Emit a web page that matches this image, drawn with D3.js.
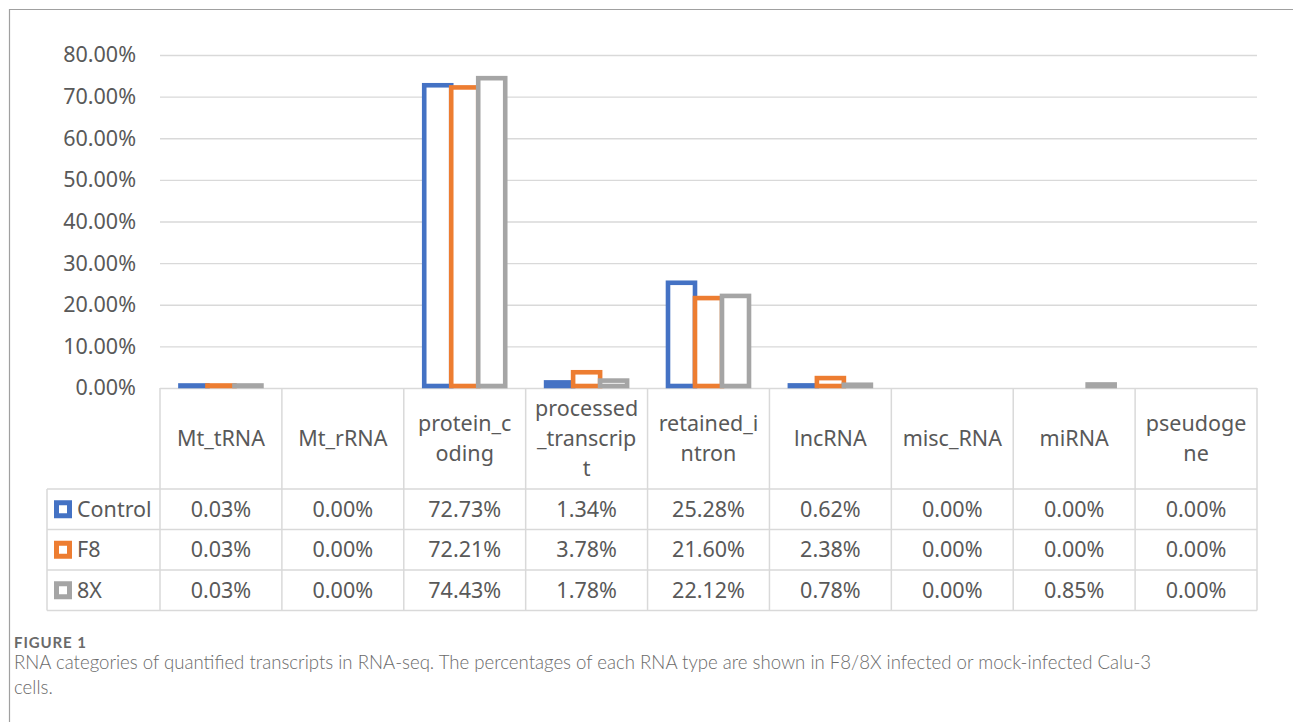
<!DOCTYPE html>
<html>
<head>
<meta charset="utf-8">
<script src="https://cdn.jsdelivr.net/npm/d3@7"></script>
<style>
  html, body { margin: 0; padding: 0; background: #fff; }
  svg { display: block; }
</style>
</head>
<body>
<svg id="chart" width="1293" height="722"></svg>
<script>
// RNA categories and their wrapped header labels
const categories = ["Mt_tRNA", "Mt_rRNA", "protein_coding", "processed_transcript", "retained_intron", "lncRNA", "misc_RNA", "miRNA", "pseudogene"];
const headerLines = [["Mt_tRNA"], ["Mt_rRNA"], ["protein_c", "oding"], ["processed", "_transcrip", "t"], ["retained_i", "ntron"], ["lncRNA"], ["misc_RNA"], ["miRNA"], ["pseudoge", "ne"]];

// Percentage of quantified transcripts per sample
const seriesNames = ["Control", "F8", "8X"];
const controlValues = [0.03, 0.00, 72.73, 1.34, 25.28, 0.62, 0.00, 0.00, 0.00];
const f8Values      = [0.03, 0.00, 72.21, 3.78, 21.60, 2.38, 0.00, 0.00, 0.00];
const x8Values      = [0.03, 0.00, 74.43, 1.78, 22.12, 0.78, 0.00, 0.85, 0.00];
const seriesColors  = ["#4472C4", "#ED7D31", "#A5A5A5"];

const yTicks = [0, 10, 20, 30, 40, 50, 60, 70, 80];

const series = seriesNames.map((name, i) => ({
  name, color: seriesColors[i], values: [controlValues, f8Values, x8Values][i]
}));

const svg = d3.select("#chart");
const FONT = "'Noto Sans', 'Open Sans', sans-serif";
const TEXT = "#595959";
const GRID = "#D9D9D9";

// outer frame
svg.append("path")
  .attr("d", "M9.5,722 V9.5 H1293")
  .attr("fill", "none").attr("stroke", "#A0A0A0").attr("stroke-width", 1.2);

const plot = { left: 160, right: 1257, top: 55, bottom: 388 };
const x = d3.scaleBand().domain(categories).range([plot.left, plot.right]).padding(0);
const y = d3.scaleLinear().domain([0, 80]).range([plot.bottom, plot.top]);
const xs = d3.scaleBand().domain(seriesNames).range([-40.5, 40.5]).padding(0);

// gridlines and y tick labels
const yAxis = d3.axisLeft(y).tickValues(yTicks)
  .tickSize(-(plot.right - plot.left)).tickPadding(24)
  .tickFormat(d => d.toFixed(2) + "%");
const ga = svg.append("g").attr("transform", `translate(${plot.left},0)`).call(yAxis);
ga.select(".domain").remove();
ga.selectAll(".tick line").attr("stroke", GRID).attr("stroke-width", 1.4);
ga.selectAll(".tick text").attr("fill", TEXT).style("font-family", FONT).style("font-size", "21.5px");

// outlined bars (zero values are not drawn)
series.forEach(s => {
  svg.append("g").selectAll("rect")
    .data(s.values.map((v, i) => ({ v, c: categories[i] })).filter(d => d.v > 0))
    .join("rect")
    .attr("x", d => x(d.c) + x.bandwidth() / 2 + xs(s.name))
    .attr("width", xs.bandwidth())
    .attr("y", d => Math.min(y(d.v), y(0) - 2.5))
    .attr("height", d => Math.max(0.5, y(0) - 2 - y(d.v)))
    .attr("fill", "#fff")
    .attr("stroke", s.color)
    .attr("stroke-width", 4.6);
});

// data table beneath the plot
const table = { headerBottom: 489, rowH: 40.5, legendLeft: 47 };
const rowsBottom = table.headerBottom + table.rowH * series.length;
const tg = svg.append("g").attr("stroke", GRID).attr("stroke-width", 1.5);
// vertical lines between categories
categories.map(c => x(c)).concat([plot.right]).forEach(xx => {
  tg.append("line").attr("x1", xx).attr("x2", xx).attr("y1", plot.bottom).attr("y2", rowsBottom);
});
tg.append("line").attr("x1", table.legendLeft).attr("x2", table.legendLeft)
  .attr("y1", table.headerBottom).attr("y2", rowsBottom);
d3.range(series.length + 1).forEach(r => {
  const yy = table.headerBottom + r * table.rowH;
  tg.append("line").attr("x1", table.legendLeft).attr("x2", plot.right).attr("y1", yy).attr("y2", yy);
});

// header category labels
const headerMid = (plot.bottom + table.headerBottom) / 2;
const lineH = 30;
categories.forEach((c, i) => {
  const lines = headerLines[i];
  const t = svg.append("text")
    .attr("text-anchor", "middle")
    .attr("fill", TEXT).style("font-family", FONT).style("font-size", "21.5px");
  lines.forEach((ln, j) => {
    t.append("tspan")
      .attr("x", x(c) + x.bandwidth() / 2)
      .attr("y", headerMid + (j - (lines.length - 1) / 2) * lineH)
      .attr("dy", "0.36em")
      .text(ln);
  });
});

// value rows with legend keys
series.forEach((s, r) => {
  const cy = table.headerBottom + r * table.rowH + table.rowH / 2;
  svg.append("rect")
    .attr("x", 56.5).attr("y", cy - 6.5).attr("width", 13).attr("height", 13)
    .attr("fill", "#fff").attr("stroke", s.color).attr("stroke-width", 5);
  svg.append("text")
    .attr("x", 77).attr("y", cy).attr("dy", "0.36em")
    .attr("fill", TEXT).style("font-family", FONT).style("font-size", "21.5px")
    .text(s.name);
  s.values.forEach((v, i) => {
    svg.append("text")
      .attr("x", x(categories[i]) + x.bandwidth() / 2).attr("y", cy).attr("dy", "0.36em")
      .attr("text-anchor", "middle")
      .attr("fill", TEXT).style("font-family", FONT).style("font-size", "21.5px")
      .text(v.toFixed(2) + "%");
  });
});

// figure caption
svg.append("text").attr("x", 14).attr("y", 648)
  .attr("fill", "#6a6a6a").style("font-family", "Lato, sans-serif").style("font-size", "15px")
  .style("font-weight", 700).style("letter-spacing", "0.9px")
  .text("FIGURE 1");
const caption = svg.append("text").attr("fill", "#6a6a6a")
  .style("font-family", "Lato, sans-serif").style("font-size", "18.6px").style("font-weight", 300);
caption.append("tspan").attr("x", 14).attr("y", 669)
  .text("RNA categories of quantified transcripts in RNA-seq. The percentages of each RNA type are shown in F8/8X infected or mock-infected Calu-3");
caption.append("tspan").attr("x", 14).attr("y", 694).text("cells.");
</script>
</body>
</html>
